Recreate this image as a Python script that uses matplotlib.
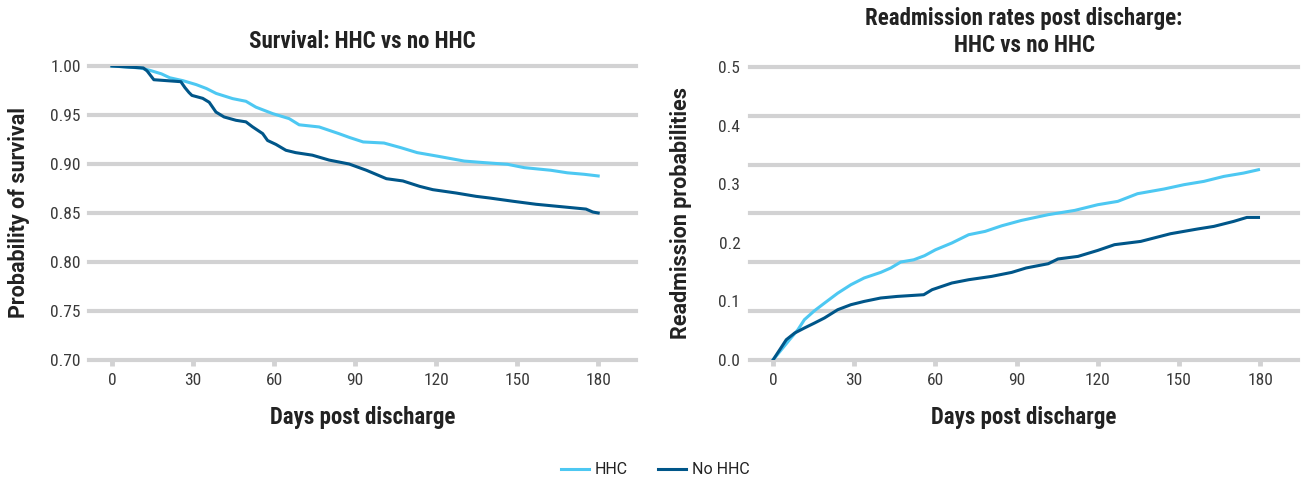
import numpy as np
import matplotlib
matplotlib.use("Agg")
import matplotlib.pyplot as plt
from matplotlib import font_manager as fm

# ---------------- data ----------------
surv_hhc_days = [0, 10.5, 14, 18.3, 21.4, 26.3, 31.2, 35, 38.6, 44.7, 49.6, 53.3, 59.5, 65.6,
                 69.3, 76.7, 84, 88, 93, 100.7, 106.9, 113, 120.5, 130.4, 137.8, 146.4, 152.6,
                 162.5, 168.6, 174.8, 180]
surv_hhc_vals = [1.0, 0.998, 0.9956, 0.992, 0.988, 0.985, 0.981, 0.977, 0.972, 0.9667, 0.964,
                 0.958, 0.9514, 0.9463, 0.940, 0.9378, 0.931, 0.927, 0.9225, 0.9214, 0.9167,
                 0.9116, 0.908, 0.903, 0.9014, 0.8997, 0.8963, 0.8936, 0.891, 0.8895, 0.8878]

surv_no_days = [0, 11.6, 13, 15.5, 25.5, 27, 28.5, 29.6, 33.6, 36, 38.5, 41.5, 45.9, 49.6, 52,
                55.8, 57.6, 60.7, 64.4, 68, 74.2, 80.4, 87.8, 94.2, 101.6, 107.7, 113.9, 118.8,
                127.4, 134.8, 139.8, 148.4, 157, 168, 175.5, 178, 180]
surv_no_vals = [1.0, 0.998, 0.995, 0.986, 0.984, 0.978, 0.973, 0.970, 0.967, 0.963, 0.953, 0.948,
                0.9446, 0.943, 0.938, 0.931, 0.924, 0.920, 0.914, 0.9116, 0.909, 0.904, 0.900,
                0.8936, 0.885, 0.8827, 0.8772, 0.8738, 0.8704, 0.867, 0.8653, 0.862, 0.8589,
                0.856, 0.854, 0.851, 0.850]

readm_hhc_days = [0, 3.1, 6.1, 9.2, 11.6, 15.3, 19, 23.9, 28.8, 33.7, 39.8, 43.5, 47.2, 52,
                  56, 60, 66.1, 72.3, 78.4, 84.5, 91.8, 101.7, 111.5, 120, 127.4, 134.7, 144.5,
                  151.9, 159.2, 166.6, 173.9, 179.4]
readm_hhc_vals = [0.0, 0.0176, 0.0346, 0.0517, 0.0688, 0.084, 0.097, 0.114, 0.1285, 0.140,
                  0.1495, 0.157, 0.1672, 0.171, 0.178, 0.188, 0.1997, 0.2138, 0.2195, 0.229,
                  0.2382, 0.248, 0.2553, 0.265, 0.2707, 0.2838, 0.2918, 0.2992, 0.3048, 0.3133,
                  0.319, 0.3247]

readm_no_days = [0, 2.5, 4.9, 8, 11.6, 15.3, 19, 23.9, 28.8, 33.7, 39.8, 45.9, 55.7, 58.8,
                 66.1, 72.3, 80.8, 88.2, 93.5, 101.7, 105.3, 112.7, 120, 126.2, 135.9, 146.9,
                 156.8, 162.9, 170.2, 175.1, 179.4]
readm_no_vals = [0.0, 0.0176, 0.0346, 0.046, 0.0546, 0.063, 0.0717, 0.0858, 0.0944, 0.100,
                 0.1058, 0.1085, 0.1114, 0.120, 0.1314, 0.137, 0.1427, 0.1495, 0.157, 0.1643,
                 0.1724, 0.1768, 0.187, 0.1968, 0.2024, 0.2155, 0.2235, 0.228, 0.2365, 0.2433,
                 0.2433]

x_ticks = [0, 30, 60, 90, 120, 150, 180]
surv_yticks = [0.70, 0.75, 0.80, 0.85, 0.90, 0.95, 1.00]
surv_ylabels = ["0.70", "0.75", "0.80", "0.85", "0.90", "0.95", "1.00"]
readm_yticks = [0.0, 0.1, 0.2, 0.3, 0.4, 0.5]
readm_ylabels = ["0.0", "0.1", "0.2", "0.3", "0.4", "0.5"]
readm_grid = list(np.linspace(0.0, 0.5, 7))

series_names = ["HHC", "No HHC"]
# ---------------- styling ----------------
C_HHC = "#4DC8F2"
C_NO = "#005689"
C_GRID = "#D2D2D3"
C_TICK = "#3a3a3a"
C_TITLE = "#222222"

names = {f.name for f in fm.fontManager.ttflist}
base = "Roboto" if "Roboto" in names else "DejaVu Sans"
cond = next((n for n in ["Roboto Condensed", "Liberation Sans Narrow"] if n in names), base)
plt.rcParams["font.family"] = [base, "DejaVu Sans"]

W, H = 1302, 484
fig = plt.figure(figsize=(W / 100, H / 100), dpi=100)


def px_axes(x0, x1, ytop, ybot):
    return fig.add_axes([x0 / W, 1 - ybot / H, (x1 - x0) / W, (ybot - ytop) / H])


ax1 = px_axes(89, 636, 66, 360)
ax2 = px_axes(750, 1298, 67, 360)


def style(ax, grid_vals, yticks, ylabels, ylim, ypad):
    ax.set_xlim(-8.5, 194)
    ax.set_ylim(*ylim)
    for s in ax.spines.values():
        s.set_visible(False)
    for g in grid_vals:
        ax.axhline(g, color=C_GRID, lw=3.0, zorder=0, clip_on=False)
    ax.set_xticks(x_ticks)
    ax.set_xticklabels([str(t) for t in x_ticks])
    ax.set_yticks(yticks)
    ax.set_yticklabels(ylabels)
    ax.tick_params(axis="y", length=0, pad=ypad, labelsize=12.5, labelcolor=C_TICK)
    ax.tick_params(axis="x", length=4.5, width=3.5, color=C_GRID, pad=5,
                   labelsize=12.5, labelcolor=C_TICK)
    for lab in ax.get_xticklabels() + ax.get_yticklabels():
        lab.set_family([cond, "DejaVu Sans"])
        lab.set_fontweight("normal")
    ax.set_facecolor("none")


style(ax1, surv_yticks, surv_yticks, surv_ylabels, (0.70, 1.00), 6)
style(ax2, readm_grid, readm_yticks, readm_ylabels, (0.0, 0.5), 7)

l1, = ax1.plot(surv_hhc_days, surv_hhc_vals, color=C_HHC, lw=2.2,
               zorder=3, label=series_names[0])
l2, = ax1.plot(surv_no_days, surv_no_vals, color=C_NO, lw=2.2,
               zorder=4, label=series_names[1])
ax2.plot(readm_hhc_days, readm_hhc_vals, color=C_HHC, lw=2.2, zorder=3)
ax2.plot(readm_no_days, readm_no_vals, color=C_NO, lw=2.2, zorder=4)

tkw = dict(fontsize=16.5, fontweight="bold", color=C_TITLE, family=[cond, "DejaVu Sans"])
ax1.set_title("Survival: HHC vs no HHC", pad=13, **tkw)
ax2.set_title("Readmission rates post discharge:\nHHC vs no HHC", pad=11, linespacing=1.2, **tkw)

for ax in (ax1, ax2):
    ax.set_xlabel("Days post discharge", labelpad=13, **tkw)

ylkw = dict(fontsize=15.5, fontweight="bold", color=C_TITLE, va="center")
ax1.set_ylabel("Probability of survival", **ylkw)
ax1.yaxis.set_label_coords((19 - 89) / 547, 0.5)
ax2.set_ylabel("Readmission probabilities", **ylkw)
ax2.yaxis.set_label_coords((681 - 750) / 548, 0.5)

fig.legend(handles=[l1, l2], loc="center", bbox_to_anchor=(0.5 + 4.5 / W, 1 - 470 / H), ncol=2,
           frameon=False, fontsize=11.5, handlelength=1.7, handletextpad=0.4,
           columnspacing=1.9, labelcolor=C_TITLE)

fig.savefig("out.png", dpi=100)
